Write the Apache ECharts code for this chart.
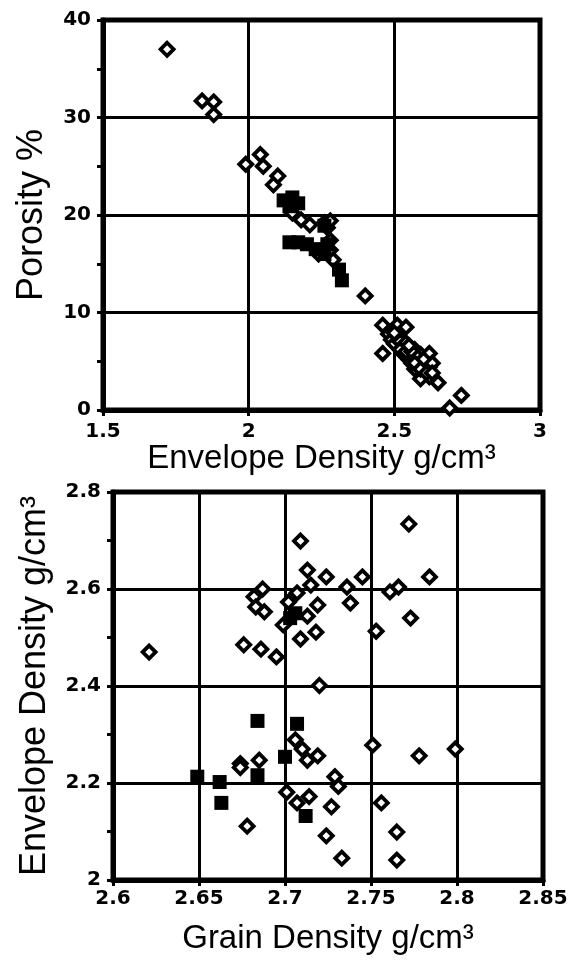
<!DOCTYPE html>
<html>
<head>
<meta charset="utf-8">
<script src="https://cdn.jsdelivr.net/npm/echarts@6/dist/echarts.min.js"></script>
<style>
  html, body { margin: 0; background: #fff; }
  #chart { width: 578px; height: 963px; }
</style>
</head>
<body>
<div id="chart"></div>
<script>
// top panel: envelope density vs porosity
const topOpenDensity = [1.72, 1.84, 1.88, 1.88, 1.99, 2.04, 2.05, 2.10, 2.085, 2.15, 2.18, 2.21, 2.26, 2.27, 2.28, 2.28, 2.28, 2.29, 2.24, 2.40,
  2.46, 2.51, 2.54, 2.46, 2.48, 2.49, 2.50, 2.51, 2.52, 2.53, 2.54, 2.55, 2.56, 2.57, 2.58, 2.58, 2.59, 2.60, 2.60, 2.61,
  2.62, 2.62, 2.62, 2.63, 2.57, 2.55, 2.65, 2.73, 2.69, 2.53, 2.56, 2.59, 2.61, 2.50,
  2.52, 2.54, 2.56, 2.58, 2.60, 2.57, 2.59, 2.61, 2.55, 2.63];
const topOpenPorosity = [37.0, 31.7, 31.6, 30.3, 25.2, 26.2, 25.0, 24.0, 23.1, 20.2, 19.5, 19.0, 19.2, 18.7, 19.4, 17.4, 16.4, 15.4, 16.0, 11.7,
  8.7, 8.7, 8.5, 5.8, 7.8, 7.2, 6.8, 7.6, 7.0, 6.4, 6.9, 6.0, 5.4, 6.2, 5.0, 4.4, 5.7, 4.0, 3.6, 5.0,
  4.4, 5.8, 3.4, 4.8, 4.2, 5.2, 2.8, 1.5, 0.2, 5.8, 4.8, 3.2, 4.0, 7.9,
  6.2, 6.0, 6.0, 5.4, 5.2, 4.8, 4.2, 3.8, 6.6, 3.8];
const topFilledDensity = [2.12, 2.15, 2.17, 2.14, 2.14, 2.17, 2.20, 2.23, 2.26, 2.27, 2.26, 2.31, 2.32];
const topFilledPorosity = [21.5, 21.8, 21.2, 20.9, 17.2, 17.2, 17.0, 16.5, 16.0, 17.0, 18.9, 14.4, 13.3];

// bottom panel: grain density vs envelope density
const botOpenGrain = [2.621, 2.709, 2.772, 2.713, 2.724, 2.745, 2.784, 2.715, 2.736, 2.761, 2.766, 2.687, 2.682, 2.683, 2.688,
  2.707, 2.702, 2.699, 2.713, 2.719, 2.738, 2.773, 2.753, 2.718, 2.709, 2.676, 2.686, 2.695, 2.720,
  2.706, 2.710, 2.713, 2.719, 2.751, 2.778, 2.799, 2.674, 2.674, 2.685, 2.729, 2.731, 2.701, 2.707,
  2.714, 2.727, 2.756, 2.678, 2.724, 2.765, 2.733, 2.765];
const botOpenEnvelope = [2.470, 2.699, 2.734, 2.639, 2.625, 2.625, 2.625, 2.608, 2.604, 2.594, 2.604, 2.600, 2.584, 2.563, 2.553,
  2.592, 2.573, 2.526, 2.544, 2.567, 2.571, 2.540, 2.513, 2.511, 2.497, 2.485, 2.476, 2.460, 2.401,
  2.289, 2.270, 2.247, 2.256, 2.278, 2.256, 2.270, 2.240, 2.232, 2.247, 2.213, 2.193, 2.181, 2.159,
  2.172, 2.151, 2.159, 2.111, 2.091, 2.099, 2.045, 2.041];
const botFilledGrain = [2.703, 2.706, 2.684, 2.707, 2.700, 2.684, 2.649, 2.662, 2.663, 2.712];
const botFilledEnvelope = [2.540, 2.550, 2.328, 2.322, 2.254, 2.216, 2.213, 2.202, 2.159, 2.132];

const zip = (xs, ys) => xs.map((x, i) => [x, ys[i]]);

const tickFont = { color: '#000', fontFamily: 'DejaVu Sans', fontWeight: 'bold', fontSize: 20 };
const xTitleFont = { color: '#000', fontFamily: 'Liberation Sans', fontSize: 33 };
const yTitleFont = { color: '#000', fontFamily: 'Liberation Sans', fontSize: 36 };

function makeAxis(opts) {
  return Object.assign({
    type: 'value',
    nameLocation: 'middle',
    axisLine: { onZero: false, lineStyle: { color: '#000', width: 5 } },
    axisTick: { show: true, inside: false, length: 6, lineStyle: { color: '#000', width: 3 } },
    splitLine: { show: true, lineStyle: { color: '#000', width: 3 } }
  }, opts);
}

const openStyle = { color: '#fff', borderColor: '#000', borderWidth: 3.8, opacity: 1 };
const filledStyle = { color: '#000', opacity: 1 };

const chart = echarts.init(document.getElementById('chart'));

chart.setOption({
  animation: false,
  backgroundColor: '#fff',
  grid: [
    { left: 103, right: 38, top: 20, height: 390, show: true, borderColor: '#000', borderWidth: 5 },
    { left: 113, right: 35, top: 492, height: 388, show: true, borderColor: '#000', borderWidth: 5 }
  ],
  xAxis: [
    makeAxis({
      gridIndex: 0, min: 1.5, max: 3, interval: 0.5,
      axisLabel: Object.assign({ margin: 12 }, tickFont),
      name: 'Envelope Density g/cm³', nameGap: 26, nameTextStyle: xTitleFont
    }),
    makeAxis({
      gridIndex: 1, min: 2.6, max: 2.85, interval: 0.05,
      axisLabel: Object.assign({ margin: 9 }, tickFont),
      name: 'Grain Density g/cm³', nameGap: 42, nameTextStyle: xTitleFont
    })
  ],
  yAxis: [
    makeAxis({
      gridIndex: 0, min: 0, max: 40, interval: 10,
      minorTick: { show: true, splitNumber: 2, length: 6, lineStyle: { color: '#000', width: 3 } },
      axisLabel: Object.assign({ margin: 12 }, tickFont),
      name: 'Porosity %', nameGap: 53, nameTextStyle: yTitleFont
    }),
    makeAxis({
      gridIndex: 1, min: 2, max: 2.8, interval: 0.2,
      minorTick: { show: true, splitNumber: 2, length: 6, lineStyle: { color: '#000', width: 3 } },
      axisLabel: Object.assign({ margin: 12 }, tickFont),
      name: 'Envelope Density g/cm³', nameGap: 60, nameTextStyle: yTitleFont
    })
  ],
  series: [
    {
      type: 'scatter', xAxisIndex: 0, yAxisIndex: 0,
      data: zip(topOpenDensity, topOpenPorosity),
      symbol: 'diamond', symbolSize: 13, itemStyle: openStyle, emphasis: { disabled: true }
    },
    {
      type: 'scatter', xAxisIndex: 0, yAxisIndex: 0,
      data: zip(topFilledDensity, topFilledPorosity),
      symbol: 'rect', symbolSize: 14, itemStyle: filledStyle, emphasis: { disabled: true }
    },
    {
      type: 'scatter', xAxisIndex: 1, yAxisIndex: 1,
      data: zip(botOpenGrain, botOpenEnvelope),
      symbol: 'diamond', symbolSize: 13, itemStyle: openStyle, emphasis: { disabled: true }
    },
    {
      type: 'scatter', xAxisIndex: 1, yAxisIndex: 1,
      data: zip(botFilledGrain, botFilledEnvelope),
      symbol: 'rect', symbolSize: 14, itemStyle: filledStyle, emphasis: { disabled: true }
    }
  ]
});
</script>
</body>
</html>
